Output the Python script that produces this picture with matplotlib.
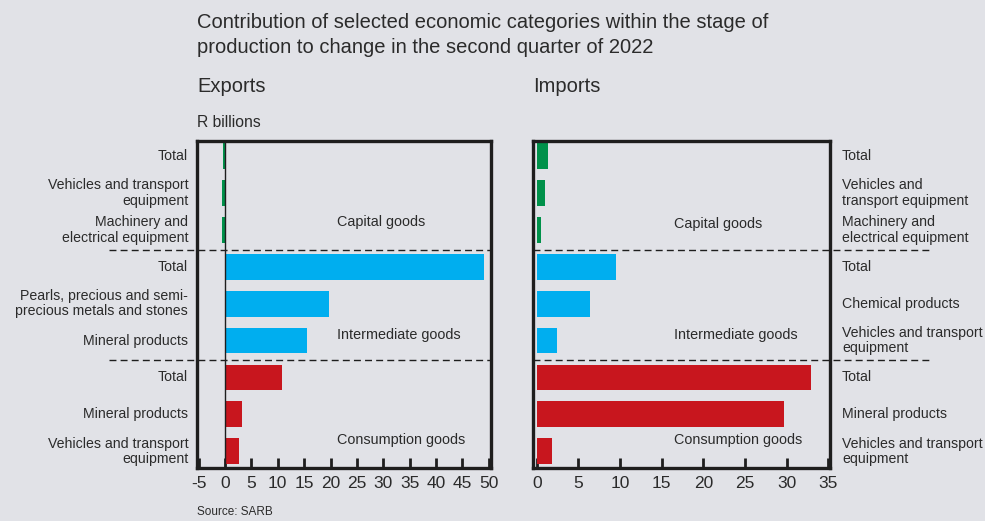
import matplotlib
matplotlib.use("Agg")
import matplotlib.pyplot as plt
import matplotlib.transforms as mtransforms

plt.rcParams["font.family"] = ["Liberation Sans", "DejaVu Sans"]

# Data (R billions)
export_labels = [
    "Total",
    "Vehicles and transport\nequipment",
    "Machinery and\nelectrical equipment",
    "Total",
    "Pearls, precious and semi-\nprecious metals and stones",
    "Mineral products",
    "Total",
    "Mineral products",
    "Vehicles and transport\nequipment",
]
export_values = [-0.3, -0.6, -0.5, 49.0, 19.7, 15.5, 10.8, 3.2, 2.7]

import_labels = [
    "Total",
    "Vehicles and\ntransport equipment",
    "Machinery and\nelectrical equipment",
    "Total",
    "Chemical products",
    "Vehicles and transport\nequipment",
    "Total",
    "Mineral products",
    "Vehicles and transport\nequipment",
]
import_values = [1.3, 1.0, 0.5, 9.5, 6.4, 2.4, 32.9, 29.7, 1.8]

groups = ["Capital goods", "Intermediate goods", "Consumption goods"]
group_colors = ["#00914A", "#00AEEF", "#C8161E"]
export_ticks = list(range(-5, 51, 5))
import_ticks = list(range(0, 36, 5))

BG = "#E1E2E7"
TXT = "#2B2B2B"

fig = plt.figure(figsize=(9.85, 5.21), dpi=100, facecolor=BG)

ax_e = fig.add_axes([197 / 985, 1 - 468 / 521, 294 / 985, 327 / 521])
ax_i = fig.add_axes([533 / 985, 1 - 468 / 521, 297 / 985, 327 / 521])

positions = list(range(9))
bar_colors = [group_colors[i // 3] for i in positions]


def style_axes(ax, xlim, ticks):
    ax.set_facecolor(BG)
    ax.set_xlim(*xlim)
    ax.set_ylim(8.45, -0.4)
    for sp in ax.spines.values():
        sp.set_linewidth(2.4)
        sp.set_color("#1E1E1E")
    ax.set_xticks(ticks)
    ax.set_xticklabels([str(t) for t in ticks], fontsize=12.5, color=TXT)
    ax.tick_params(axis="x", direction="in", length=7, width=2,
                   color="#1E1E1E", pad=6)
    ax.set_yticks([])


# Exports panel
ax_e.barh(positions, export_values, height=0.7, color=bar_colors, zorder=2)
style_axes(ax_e, (-5.3, 50.4), export_ticks)
ax_e.axvline(0, color="#1E1E1E", lw=1, zorder=3)

# Imports panel
ax_i.barh(positions, import_values, height=0.7, color=bar_colors, zorder=2)
style_axes(ax_i, (-0.45, 35.2), import_ticks)

# Category row labels
for p, lab in zip(positions, export_labels):
    ax_e.text(-0.03, p, lab, transform=mtransforms.blended_transform_factory(
        ax_e.transAxes, ax_e.transData), ha="right", va="center",
        fontsize=10.2, color=TXT, linespacing=1.15)
for p, lab in zip(positions, import_labels):
    ax_i.text(1.04, p, lab, transform=mtransforms.blended_transform_factory(
        ax_i.transAxes, ax_i.transData), ha="left", va="center",
        fontsize=10.2, color=TXT, linespacing=1.15)

# Group separators
for y in (2.55, 5.53):
    tr = mtransforms.blended_transform_factory(ax_e.transAxes, ax_e.transData)
    ax_e.plot([-0.30, 1.0], [y, y], transform=tr, clip_on=False,
              color="#1E1E1E", lw=1, dashes=(5, 3), zorder=4)
    tr = mtransforms.blended_transform_factory(ax_i.transAxes, ax_i.transData)
    ax_i.plot([0.0, 1.34], [y, y], transform=tr, clip_on=False,
              color="#1E1E1E", lw=1, dashes=(5, 3), zorder=4)

# Group names inside each panel
group_y_e = [1.8, 4.86, 7.7]
group_y_i = [1.85, 4.86, 7.7]
for g, ye, yi in zip(groups, group_y_e, group_y_i):
    ax_e.text(21.2, ye, g, ha="left", va="center", fontsize=10.4, color=TXT)
    ax_i.text(16.5, yi, g, ha="left", va="center", fontsize=10.4, color=TXT)

# Titles and notes
fig.text(197 / 985, 1 - 22 / 521, "Contribution of selected economic categories within the stage of",
         ha="left", va="center", fontsize=14.5, color=TXT)
fig.text(197 / 985, 1 - 47 / 521, "production to change in the second quarter of 2022",
         ha="left", va="center", fontsize=14.5, color=TXT)
fig.text(197 / 985, 1 - 87 / 521, "Exports", ha="left", va="center", fontsize=14.5, color=TXT)
fig.text(533 / 985, 1 - 87 / 521, "Imports", ha="left", va="center", fontsize=14.5, color=TXT)
fig.text(197 / 985, 1 - 122 / 521, "R billions", ha="left", va="center", fontsize=11.3, color=TXT)
fig.text(197 / 985, 1 - 512 / 521, "Source: SARB", ha="left", va="center", fontsize=8.5, color=TXT)

fig.savefig("out.png", dpi=100, facecolor=BG)
